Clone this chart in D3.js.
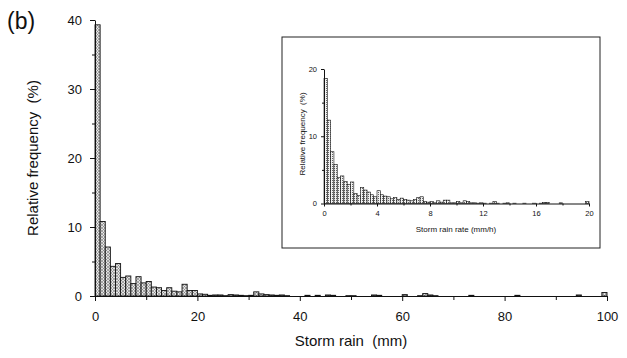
<!DOCTYPE html>
<html>
<head>
<meta charset="utf-8">
<script src="https://cdn.jsdelivr.net/npm/d3@7"></script>
<style>
  body { margin: 0; background: #fff; }
  svg { display: block; font-family: "Liberation Sans", Arial, sans-serif; }
  text { white-space: pre; }
</style>
</head>
<body>
<div id="chart"></div>
<script>
// storm rain histogram, 1 mm bins from 0 to 100 mm (relative frequency, %)
const rainBinWidth = 1;
const rainFreq = [
  39.3, 10.8, 7.1, 4.3, 4.7, 2.7, 2.9, 1.8, 2.8, 1.9,
  2.1, 1.3, 1.2, 0.8, 1.2, 0.7, 0.6, 1.7, 0.8, 0.8,
  0.3, 0.25, 0.1, 0.15, 0.15, 0.05, 0.2, 0.15, 0.1, 0.05,
  0.1, 0.6, 0.3, 0.2, 0.15, 0.1, 0.15, 0.05, 0, 0,
  0, 0.1, 0, 0.1, 0, 0.15, 0.1, 0, 0, 0.05,
  0.05, 0, 0, 0, 0.15, 0.1, 0, 0, 0, 0,
  0.2, 0, 0, 0.05, 0.35, 0.15, 0.05, 0, 0, 0,
  0, 0, 0, 0.1, 0, 0, 0, 0, 0, 0,
  0, 0, 0.1, 0, 0, 0, 0, 0, 0, 0,
  0, 0, 0, 0, 0.15, 0, 0, 0, 0, 0.5
];
const rainTicks = [0, 20, 40, 60, 80, 100];
const freqTicks = [0, 10, 20, 30, 40];

// inset: storm rain rate, 0.25 mm/h bins from 0 to 20 mm/h
const rateBinWidth = 0.25;
const rateFreq = [
  18.6, 12.4, 7.7, 5.8, 3.9, 4.1, 3.3, 2.8, 3.2, 1.5,
  1.2, 2.4, 2.0, 1.7, 1.3, 1.0, 1.9, 1.3, 1.1, 1.0,
  0.7, 0.9, 0.6, 0.8, 0.6, 0.5, 0.4, 0.6, 0.9, 1.0,
  0.3, 0.2, 0.3, 0.1, 0.4, 0.2, 0.5, 0.5, 0.1, 0.1,
  0.3, 0.1, 0.4, 0.3, 0.1, 0.1, 0.05, 0.1, 0.05, 0,
  0.05, 0.3, 0.05, 0, 0.05, 0.1, 0, 0.05, 0, 0,
  0.05, 0, 0, 0.05, 0, 0.05, 0.15, 0.15, 0, 0,
  0, 0.1, 0, 0, 0, 0, 0, 0, 0, 0.3
];
const rateTicks = [0, 4, 8, 12, 16, 20];
const rateFreqTicks = [0, 10, 20];

const width = 627, height = 358;

const svg = d3.select('#chart').append('svg')
  .attr('width', width)
  .attr('height', height);

svg.append('rect').attr('width', width).attr('height', height).attr('fill', '#fff');

// fill patterns
const defs = svg.append('defs');
const hatch = defs.append('pattern')
  .attr('id', 'hatch')
  .attr('patternUnits', 'userSpaceOnUse')
  .attr('width', 3).attr('height', 3);
hatch.append('rect').attr('width', 3).attr('height', 3).attr('fill', '#e4e4e4');
hatch.append('path').attr('d', 'M0,3 L3,0 M0,0 L3,3').attr('stroke', '#777').attr('stroke-width', 0.6);

const dots = defs.append('pattern')
  .attr('id', 'dots')
  .attr('patternUnits', 'userSpaceOnUse')
  .attr('width', 2).attr('height', 2);
dots.append('rect').attr('width', 2).attr('height', 2).attr('fill', '#f2f2f2');
dots.append('rect').attr('width', 1).attr('height', 1).attr('fill', '#666');

function drawHistogram(g, data, binWidth, x, y, fill, strokeW) {
  g.selectAll('rect.bar')
    .data(data.map((v, i) => ({x0: i * binWidth, v})).filter(d => d.v > 0))
    .join('rect')
    .attr('class', 'bar')
    .attr('x', d => x(d.x0))
    .attr('width', d => x(d.x0 + binWidth) - x(d.x0))
    .attr('y', d => y(d.v))
    .attr('height', d => y(0) - y(d.v))
    .attr('fill', fill)
    .attr('stroke', '#111')
    .attr('stroke-width', strokeW);
}

function styleAxis(g, fontSize) {
  g.select('.domain').attr('stroke', '#111');
  g.selectAll('.tick line').attr('stroke', '#111');
  g.selectAll('.tick text').attr('fill', '#111').attr('font-size', fontSize)
    .attr('font-family', '"Liberation Sans", Arial, sans-serif');
}

// ---- main chart ----
const x = d3.scaleLinear().domain([0, 100]).range([95, 607]);
const y = d3.scaleLinear().domain([0, 40]).range([296, 20]);

const main = svg.append('g');
drawHistogram(main, rainFreq, rainBinWidth, x, y, 'url(#hatch)', 0.9);

// minor ticks
main.append('g')
  .attr('transform', `translate(0,${y(0)})`)
  .call(d3.axisBottom(x).tickValues(d3.range(10, 100, 20)).tickSize(4).tickFormat(''))
  .call(g => { g.select('.domain').remove(); g.selectAll('line').attr('stroke', '#111'); });
main.append('g')
  .attr('transform', `translate(${x(0)},0)`)
  .call(d3.axisLeft(y).tickValues(d3.range(5, 40, 10)).tickSize(3).tickFormat(''))
  .call(g => { g.select('.domain').remove(); g.selectAll('line').attr('stroke', '#111'); });

main.append('g')
  .attr('transform', `translate(0,${y(0)})`)
  .call(d3.axisBottom(x).tickValues(rainTicks).tickSize(5).tickPadding(11).tickSizeOuter(0))
  .call(g => styleAxis(g, 13));
main.append('g')
  .attr('transform', `translate(${x(0)},0)`)
  .call(d3.axisLeft(y).tickValues(freqTicks).tickSize(5).tickPadding(8).tickSizeOuter(0))
  .call(g => styleAxis(g, 13));

svg.append('text')
  .attr('x', 351).attr('y', 346)
  .attr('text-anchor', 'middle')
  .attr('font-size', 15).attr('fill', '#111')
  .text('Storm rain  (mm)');

svg.append('text')
  .attr('transform', 'translate(38,158) rotate(-90)')
  .attr('text-anchor', 'middle')
  .attr('font-size', 15).attr('fill', '#111')
  .text('Relative frequency  (%)');

svg.append('text')
  .attr('x', 7).attr('y', 29)
  .attr('font-size', 23).attr('fill', '#111')
  .text('(b)');

// ---- inset ----
const inset = svg.append('g');
inset.append('rect')
  .attr('x', 282).attr('y', 37)
  .attr('width', 318).attr('height', 211)
  .attr('fill', '#fff').attr('stroke', '#222').attr('stroke-width', 1);

const ix = d3.scaleLinear().domain([0, 20]).range([324, 589]);
const iy = d3.scaleLinear().domain([0, 20]).range([203.5, 69]);

drawHistogram(inset, rateFreq, rateBinWidth, ix, iy, 'url(#dots)', 0.6);

inset.append('g')
  .attr('transform', `translate(0,${iy(0)})`)
  .call(d3.axisBottom(ix).tickValues(d3.range(2, 20, 4)).tickSize(2).tickFormat(''))
  .call(g => { g.select('.domain').remove(); g.selectAll('line').attr('stroke', '#111'); });
inset.append('g')
  .attr('transform', `translate(${ix(0)},0)`)
  .call(d3.axisLeft(iy).tickValues([5, 15]).tickSize(2).tickFormat(''))
  .call(g => { g.select('.domain').remove(); g.selectAll('line').attr('stroke', '#111'); });

inset.append('g')
  .attr('transform', `translate(0,${iy(0)})`)
  .call(d3.axisBottom(ix).tickValues(rateTicks).tickSize(3).tickPadding(4).tickSizeOuter(0))
  .call(g => styleAxis(g, 7.5));
inset.append('g')
  .attr('transform', `translate(${ix(0)},0)`)
  .call(d3.axisLeft(iy).tickValues(rateFreqTicks).tickSize(3).tickPadding(4).tickSizeOuter(0))
  .call(g => styleAxis(g, 7.5));

inset.append('text')
  .attr('x', 456).attr('y', 232)
  .attr('text-anchor', 'middle')
  .attr('font-size', 8).attr('fill', '#111')
  .text('Storm rain rate (mm/h)');

inset.append('text')
  .attr('transform', 'translate(305,134) rotate(-90)')
  .attr('text-anchor', 'middle')
  .attr('font-size', 8).attr('fill', '#111')
  .text('Relative frequency  (%)');
</script>
</body>
</html>
